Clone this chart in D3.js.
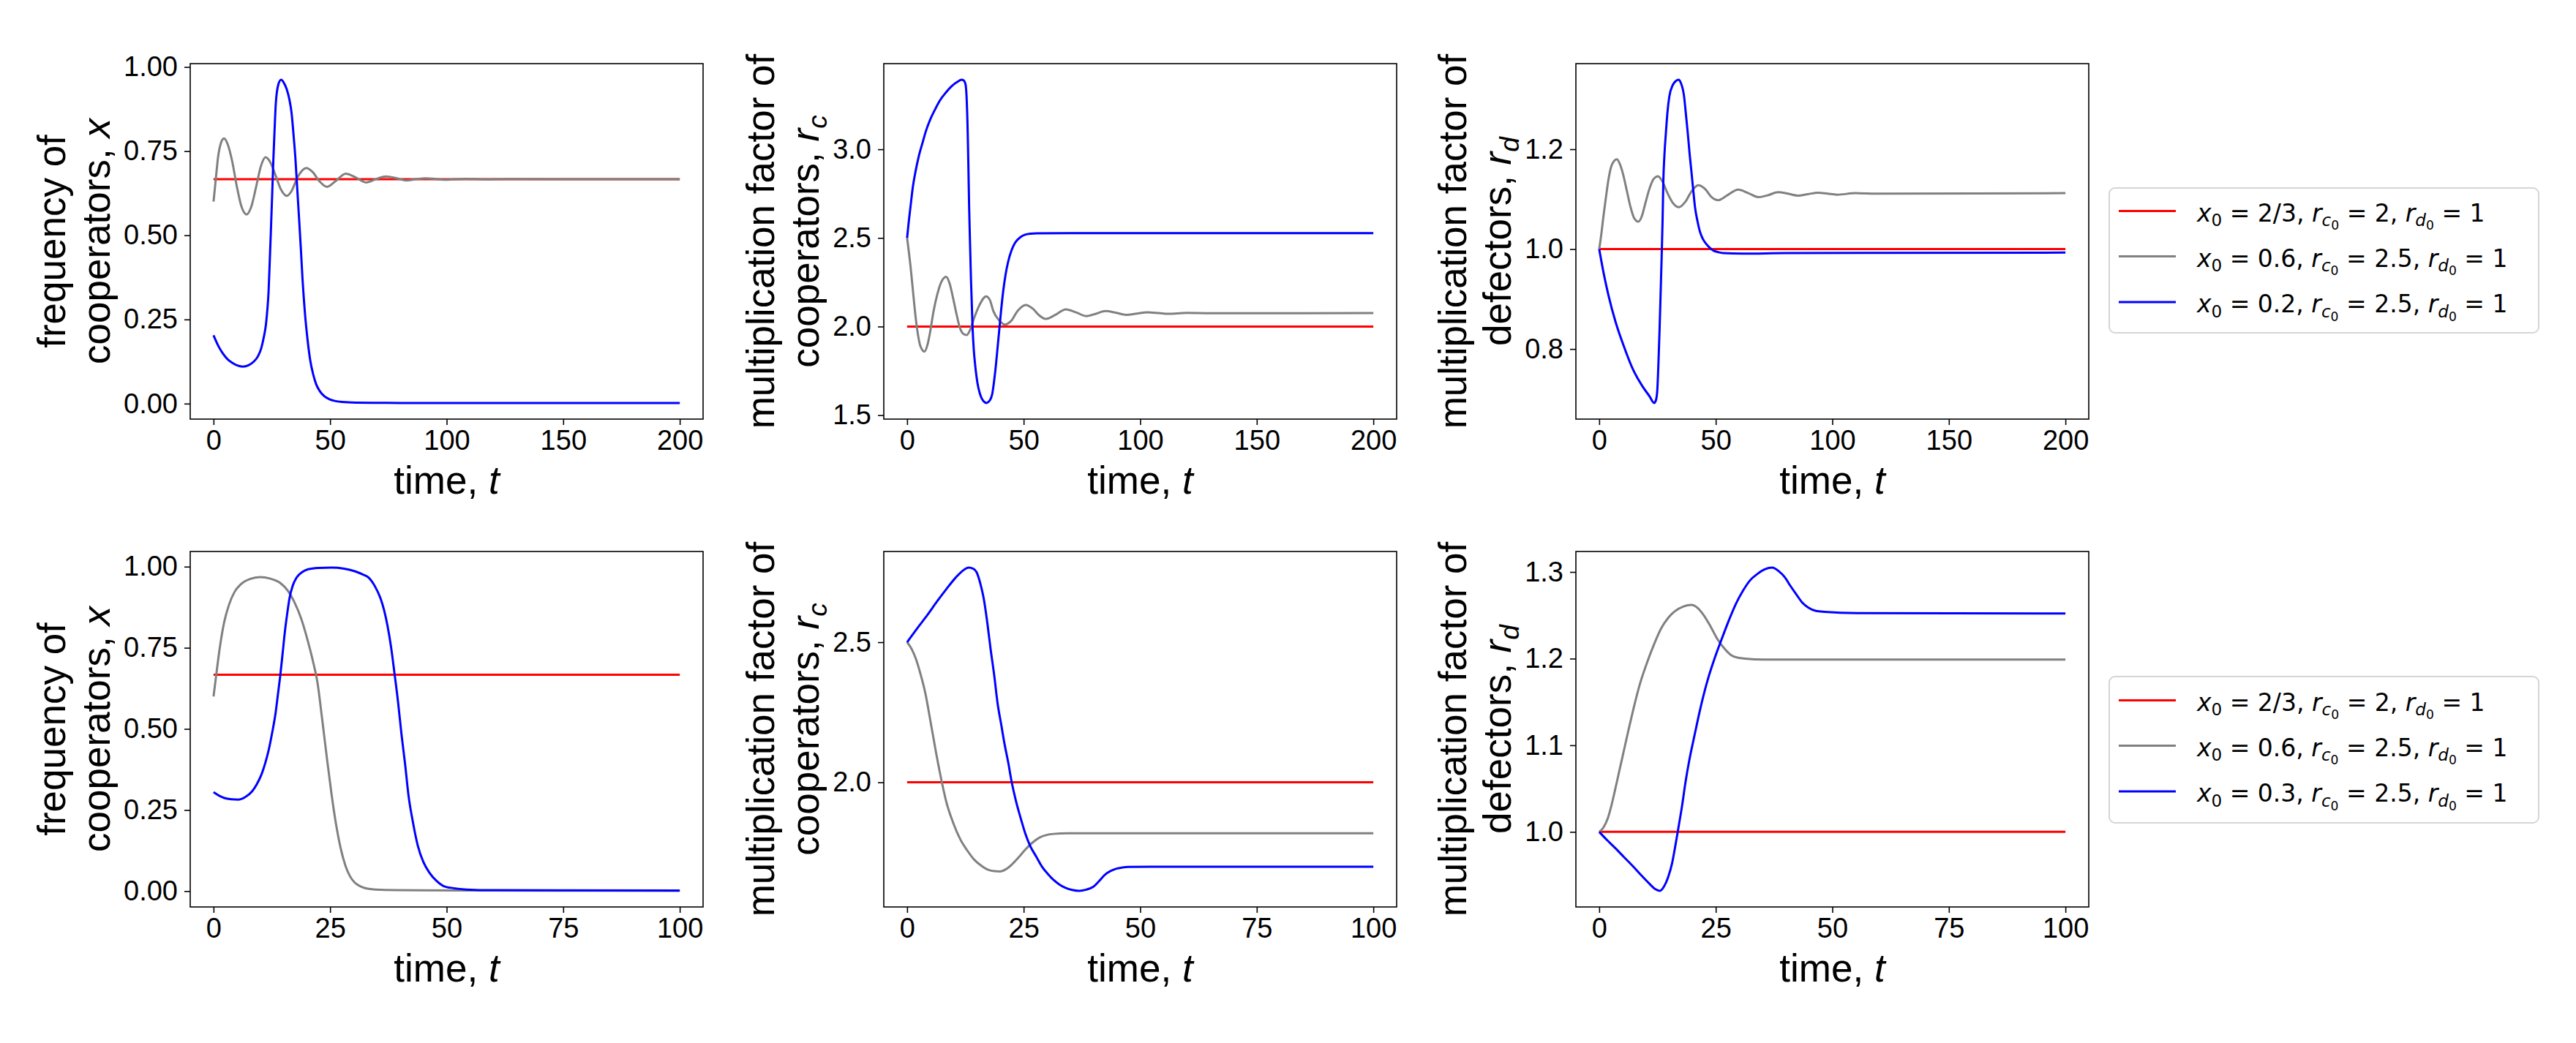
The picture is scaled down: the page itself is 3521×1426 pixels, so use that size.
<!DOCTYPE html>
<html>
<head>
<meta charset="utf-8">
<script src="https://cdn.jsdelivr.net/npm/d3@7"></script>
<style>
  body { margin: 0; background: #fff; }
  text { white-space: pre; }
</style>
</head>
<body>
<svg id="chart"></svg>
<script>
// ---- data: [t, value] pairs ----
const topFreqRed = [[0, 0.6667], [200, 0.6667]];
const topFreqGray = [[0,0.600],[0.8,0.655],[2,0.735],[3.2,0.775],[4.5,0.788],[6,0.772],[8,0.72],[10,0.645],[12,0.585],[14.2,0.562],[16.2,0.585],[18.3,0.645],[20.3,0.705],[22.3,0.732],[24.3,0.718],[26.5,0.68],[29,0.635],[31.4,0.617],[33.5,0.632],[36,0.672],[39.8,0.700],[42.5,0.688],[45.5,0.66],[48.7,0.644],[52.5,0.662],[56.7,0.683],[61,0.672],[65.4,0.657],[69.7,0.667],[74,0.675],[78.3,0.670],[82.7,0.663],[87,0.667],[91,0.6695],[95.5,0.667],[100,0.665],[108,0.668],[117,0.666],[126,0.667],[200,0.6667]];
const topFreqBlue = [[0,0.203],[2,0.172],[3.7,0.152],[6,0.132],[7.9,0.122],[10,0.114],[12.6,0.110],[15,0.114],[17.3,0.125],[19,0.14],[20.4,0.163],[21.5,0.195],[22.5,0.236],[23.1,0.28],[23.6,0.331],[24.1,0.42],[24.6,0.512],[25.2,0.63],[25.7,0.731],[26.2,0.815],[26.7,0.89],[27.8,0.948],[29,0.962],[30,0.955],[31.4,0.934],[32.5,0.905],[33.5,0.862],[34.3,0.80],[35.1,0.731],[35.9,0.64],[36.7,0.549],[37.5,0.455],[38.2,0.367],[39.2,0.27],[40.3,0.192],[41.5,0.128],[42.9,0.083],[44,0.058],[45.5,0.038],[47.5,0.022],[49.7,0.013],[52,0.008],[55,0.005],[61,0.003],[80,0.002],[200,0.002]];

const topRcRed = [[0, 2], [200, 2]];
const topRcGray = [[0,2.5],[1.5,2.336],[2.6,2.19],[3.6,2.059],[4.6,1.96],[5.6,1.894],[7.5,1.859],[8.8,1.90],[9.8,1.963],[11.4,2.09],[13,2.184],[15,2.26],[16.8,2.28],[18.3,2.24],[19.8,2.156],[21.2,2.07],[22.4,2.004],[24,1.96],[25.5,1.952],[27,1.98],[28.7,2.046],[31,2.12],[33.9,2.17],[35.5,2.15],[37,2.087],[39.5,2.035],[42,2.011],[44.5,2.03],[47.5,2.09],[50.9,2.122],[54,2.10],[56.5,2.065],[59.5,2.043],[63.5,2.065],[68.1,2.097],[72.5,2.08],[76.8,2.059],[81,2.072],[85.1,2.087],[89.5,2.078],[94,2.066],[98.5,2.073],[103,2.080],[108,2.076],[112,2.072],[120,2.077],[130,2.075],[200,2.076]];
const topRcBlue = [[0,2.5],[0.7,2.59],[1.5,2.681],[2.5,2.79],[3.6,2.874],[5,2.96],[6.7,3.040],[8,3.10],[9.8,3.164],[12,3.225],[14,3.274],[16.5,3.318],[19.2,3.357],[21.5,3.38],[23.4,3.392],[24.3,3.388],[25,3.37],[25.5,3.3],[26,3.095],[26.3,2.9],[26.6,2.681],[27,2.47],[27.4,2.267],[28.1,1.990],[28.6,1.87],[29.2,1.783],[30.2,1.68],[31.3,1.618],[32.7,1.58],[34.1,1.569],[35.3,1.58],[36.5,1.618],[37.3,1.69],[38.1,1.783],[38.8,1.88],[39.6,1.990],[40.4,2.1],[41.2,2.197],[42.2,2.29],[43.3,2.363],[44.8,2.43],[46.4,2.474],[48.5,2.503],[50.6,2.518],[53,2.524],[55.8,2.526],[70,2.527],[200,2.527]];

const topRdRed = [[0, 1], [200, 1]];
const topRdGray = [[0,1.0],[0.8,1.026],[1.8,1.065],[2.9,1.104],[4,1.14],[5,1.163],[6.3,1.176],[7.6,1.180],[8.9,1.17],[10.3,1.149],[11.8,1.118],[13.4,1.085],[15,1.062],[16.8,1.055],[18.3,1.066],[19.7,1.090],[21.5,1.12],[23.3,1.14],[25.2,1.146],[27.2,1.135],[29.1,1.114],[31.5,1.093],[34.3,1.084],[37,1.095],[39.5,1.115],[42.5,1.128],[45.5,1.12],[48,1.105],[51,1.098],[55,1.108],[59.6,1.119],[64,1.112],[68.3,1.104],[72.5,1.108],[76.7,1.114],[81,1.111],[85.3,1.107],[89.5,1.110],[93.9,1.113],[98,1.111],[102,1.109],[110,1.112],[120,1.111],[200,1.112]];
const topRdBlue = [[0,1.0],[1.9,0.952],[4,0.907],[7.1,0.853],[10.3,0.809],[14.4,0.760],[18.6,0.725],[21.5,0.706],[23.6,0.692],[24.3,0.697],[24.9,0.716],[25.4,0.77],[25.9,0.839],[26.4,0.92],[26.8,0.986],[27.2,1.06],[27.5,1.134],[28,1.19],[28.6,1.232],[29.3,1.275],[30.1,1.306],[31.5,1.328],[33,1.337],[34,1.339],[35,1.333],[36.4,1.306],[37.2,1.27],[38,1.232],[38.8,1.19],[39.5,1.158],[40.3,1.12],[41.1,1.084],[42.2,1.055],[43.2,1.035],[44.5,1.02],[45.8,1.011],[47.4,1.003],[49,0.997],[51,0.994],[53.1,0.992],[61.5,0.991],[80,0.992],[200,0.993]];

const botFreqRed = [[0, 0.6667], [100, 0.6667]];
const botFreqGray = [[0,0.600],[0.7,0.68],[1.3,0.746],[2.3,0.83],[3.3,0.882],[4.5,0.922],[5.8,0.945],[7.8,0.962],[10,0.968],[12.2,0.963],[14.3,0.950],[16,0.925],[17.3,0.892],[18.8,0.84],[20.3,0.767],[21.3,0.71],[22.3,0.642],[23.3,0.53],[24.3,0.412],[25.3,0.30],[26.3,0.204],[27.3,0.13],[28.3,0.078],[29.3,0.045],[30.3,0.026],[31.8,0.013],[33.3,0.007],[36,0.004],[39.3,0.003],[55,0.002],[100,0.001]];
const botFreqBlue = [[0,0.305],[1.2,0.294],[2.3,0.287],[3.8,0.283],[5.3,0.282],[6.8,0.290],[8.3,0.308],[9.3,0.33],[10.3,0.360],[11.1,0.395],[11.8,0.433],[12.6,0.49],[13.3,0.548],[13.8,0.605],[14.3,0.663],[14.8,0.73],[15.3,0.799],[15.8,0.855],[16.3,0.903],[17,0.942],[17.8,0.966],[19,0.983],[20.3,0.992],[22.5,0.996],[25.3,0.997],[28,0.994],[30.3,0.986],[32,0.976],[33.3,0.966],[34.6,0.94],[35.8,0.903],[36.6,0.865],[37.3,0.819],[38.1,0.75],[38.8,0.673],[39.6,0.58],[40.3,0.485],[41.1,0.39],[41.8,0.297],[42.8,0.21],[43.8,0.141],[45,0.09],[46.3,0.057],[47.8,0.032],[49.3,0.016],[51.5,0.009],[54.3,0.005],[60,0.003],[100,0.002]];

const botRcRed = [[0, 2], [100, 2]];
const botRcGray = [[0,2.5],[1,2.475],[1.9,2.44],[2.9,2.385],[3.9,2.319],[5.1,2.21],[6.4,2.089],[7.4,2.005],[8.4,1.931],[9.9,1.855],[11.4,1.797],[12.9,1.757],[14.4,1.724],[15.9,1.703],[17.4,1.688],[18.7,1.683],[19.9,1.682],[21.2,1.69],[22.4,1.706],[23.9,1.732],[25.4,1.761],[26.9,1.785],[28.4,1.803],[29.9,1.812],[31.4,1.816],[34.4,1.818],[37.4,1.818],[100,1.818]];
const botRcBlue = [[0,2.5],[2.2,2.55],[4.4,2.598],[6.4,2.645],[8.4,2.689],[10.4,2.73],[12,2.756],[13.2,2.766],[14.2,2.762],[14.9,2.75],[15.7,2.71],[16.4,2.659],[17.2,2.57],[17.9,2.477],[18.7,2.38],[19.4,2.283],[20.2,2.205],[20.9,2.137],[21.7,2.07],[22.4,2.004],[23.4,1.93],[24.4,1.870],[25.4,1.815],[26.4,1.773],[27.7,1.735],[28.9,1.700],[30.2,1.673],[31.4,1.652],[32.7,1.635],[33.9,1.624],[35.4,1.616],[36.9,1.613],[38.4,1.617],[39.9,1.627],[41.2,1.648],[42.4,1.670],[43.7,1.684],[44.9,1.692],[46.2,1.696],[47.4,1.698],[52.4,1.699],[100,1.699]];

const botRdRed = [[0, 1], [100, 1]];
const botRdGray = [[0,1.0],[0.9,1.005],[1.8,1.015],[2.6,1.03],[3.3,1.046],[4.3,1.07],[5.3,1.094],[6.3,1.118],[7.3,1.141],[8.8,1.172],[10.3,1.196],[11.8,1.217],[13.3,1.235],[14.8,1.247],[16.3,1.255],[18,1.260],[19.8,1.262],[21,1.259],[22.3,1.251],[23.8,1.238],[25.3,1.223],[26.8,1.212],[28.3,1.204],[29.8,1.201],[31.3,1.200],[35.3,1.199],[100,1.199]];
const botRdBlue = [[0,1.0],[1.6,0.991],[3.3,0.982],[5.3,0.971],[7.3,0.960],[9,0.95],[10.8,0.940],[12,0.934],[13,0.932],[13.9,0.937],[14.8,0.948],[15.6,0.963],[16.3,0.983],[17,1.005],[17.8,1.031],[18.5,1.057],[19.3,1.082],[20.3,1.108],[21.3,1.133],[22.3,1.156],[23.3,1.176],[24.8,1.201],[26.3,1.223],[27.8,1.244],[29.3,1.263],[30.8,1.278],[32.3,1.290],[34,1.298],[35.5,1.303],[37.1,1.305],[38.5,1.301],[39.8,1.294],[41,1.284],[42.3,1.274],[43.5,1.265],[44.8,1.259],[46.5,1.255],[48.3,1.254],[55.3,1.2525],[100,1.252]];

// ticks
const topXTicks = [0, 50, 100, 150, 200];
const botXTicks = [0, 25, 50, 75, 100];
const freqTicks = [0, 0.25, 0.5, 0.75, 1.0];
const topRcTicks = [1.5, 2.0, 2.5, 3.0];
const topRdTicks = [0.8, 1.0, 1.2];
const botRcTicks = [2.0, 2.5];
const botRdTicks = [1.0, 1.1, 1.2, 1.3];

// legend entries
const seriesColors = ["#ff0000", "#808080", "#0000ff"];
const topX0 = ["2/3", "0.6", "0.2"];
const botX0 = ["2/3", "0.6", "0.3"];
const rc0 = ["2", "2.5", "2.5"];
const rd0 = ["1", "1", "1"];

// ---- layout ----
const W = 3521, H = 1426;
const colLeft = [260, 1208, 2154];
const rowTop = [87, 754];
const pw = 701, ph = 486;
const tickFont = 38, labelFont = 53, legendFont = 33;
const sans = "'Liberation Sans', Arial, Helvetica, sans-serif";

const svg = d3.select("#chart").attr("width", W).attr("height", H)
  .style("font-family", sans);

const panels = [
  { row: 0, col: 0, series: [topFreqRed, topFreqGray, topFreqBlue], xTicks: topXTicks, yTicks: freqTicks, fmt: ".2f",
    ylab: [[["frequency of", 0, 0]], [["cooperators, ", 0, 0], ["x", 1, 0]]] },
  { row: 0, col: 1, series: [topRcRed, topRcGray, topRcBlue], xTicks: topXTicks, yTicks: topRcTicks, fmt: ".1f",
    ylab: [[["multiplication factor of", 0, 0]], [["cooperators, ", 0, 0], ["r", 1, 0], ["c", 1, 1]]] },
  { row: 0, col: 2, series: [topRdRed, topRdGray, topRdBlue], xTicks: topXTicks, yTicks: topRdTicks, fmt: ".1f",
    ylab: [[["multiplication factor of", 0, 0]], [["defectors, ", 0, 0], ["r", 1, 0], ["d", 1, 1]]] },
  { row: 1, col: 0, series: [botFreqRed, botFreqGray, botFreqBlue], xTicks: botXTicks, yTicks: freqTicks, fmt: ".2f",
    ylab: [[["frequency of", 0, 0]], [["cooperators, ", 0, 0], ["x", 1, 0]]] },
  { row: 1, col: 1, series: [botRcRed, botRcGray, botRcBlue], xTicks: botXTicks, yTicks: botRcTicks, fmt: ".1f",
    ylab: [[["multiplication factor of", 0, 0]], [["cooperators, ", 0, 0], ["r", 1, 0], ["c", 1, 1]]] },
  { row: 1, col: 2, series: [botRdRed, botRdGray, botRdBlue], xTicks: botXTicks, yTicks: botRdTicks, fmt: ".1f",
    ylab: [[["multiplication factor of", 0, 0]], [["defectors, ", 0, 0], ["r", 1, 0], ["d", 1, 1]]] }
];

// text with italic parts and sub / sub-sub scripts
function richText(sel, segs, size) {
  const shift = [0, 0.2, 0.36];
  const scale = [1, 0.7, 0.52];
  let cur = 0;
  segs.forEach(([txt, it, lv]) => {
    sel.append("tspan")
      .attr("dy", (shift[lv] - shift[cur]) * size)
      .attr("font-size", size * scale[lv])
      .attr("font-style", it ? "italic" : "normal")
      .text(txt);
    cur = lv;
  });
}

// matplotlib style 5% margins
function padded(ext) {
  const m = (ext[1] - ext[0]) * 0.05;
  return [ext[0] - m, ext[1] + m];
}

panels.forEach(p => {
  const left = colLeft[p.col], top = rowTop[p.row];
  const g = svg.append("g").attr("transform", `translate(${left}, ${top})`);

  const allPts = p.series.flat();
  const x = d3.scaleLinear()
    .domain(padded(d3.extent(allPts, d => d[0])))
    .range([0, pw]);
  const y = d3.scaleLinear()
    .domain(padded(d3.extent(allPts, d => d[1])))
    .range([ph, 0]);

  const line = d3.line()
    .x(d => x(d[0]))
    .y(d => y(d[1]))
    .curve(d3.curveMonotoneX);

  // curves
  p.series.forEach((s, i) => {
    g.append("path")
      .datum(s)
      .attr("d", line)
      .attr("fill", "none")
      .attr("stroke", seriesColors[i])
      .attr("stroke-width", 3)
      .attr("stroke-linejoin", "round");
  });

  // spines
  g.append("rect")
    .attr("width", pw).attr("height", ph)
    .attr("fill", "none").attr("stroke", "#000").attr("stroke-width", 1.6);

  // axes
  const xa = g.append("g")
    .attr("transform", `translate(0, ${ph})`)
    .call(d3.axisBottom(x).tickValues(p.xTicks).tickFormat(d3.format("d"))
      .tickSizeInner(8).tickSizeOuter(0).tickPadding(7));
  const ya = g.append("g")
    .call(d3.axisLeft(y).tickValues(p.yTicks).tickFormat(d3.format(p.fmt))
      .tickSizeInner(8).tickSizeOuter(0).tickPadding(9));

  [xa, ya].forEach(a => {
    a.select(".domain").remove();
    a.selectAll("line").attr("stroke", "#000").attr("stroke-width", 1.6);
    a.selectAll("text").attr("font-family", sans).attr("font-size", tickFont).attr("fill", "#000");
  });

  // x label
  const xl = g.append("text")
    .attr("x", pw / 2).attr("y", ph + 102)
    .attr("text-anchor", "middle").attr("font-size", labelFont).attr("fill", "#000");
  richText(xl, [["time, ", 0, 0], ["t", 1, 0]], labelFont);

  // y label (two lines, rotated)
  const bb = ya.node().getBBox();
  const line2X = bb.x - 38;
  const lineXs = [line2X - 61, line2X];
  p.ylab.forEach((segs, i) => {
    const t = g.append("text")
      .attr("transform", `translate(${lineXs[i]}, ${ph / 2}) rotate(-90)`)
      .attr("text-anchor", "middle")
      .attr("y", labelFont * 0.36)
      .attr("font-size", labelFont).attr("fill", "#000");
    richText(t, segs, labelFont);
  });
});

// legends
const legends = [
  { x: 2883, y: 257, h: 198, x0: topX0 },
  { x: 2883, y: 925, h: 200, x0: botX0 }
];
legends.forEach(L => {
  const g = svg.append("g").attr("transform", `translate(${L.x}, ${L.y})`)
    .style("font-family", "'DejaVu Sans', sans-serif");
  g.append("rect")
    .attr("width", 587).attr("height", L.h).attr("rx", 8)
    .attr("fill", "#fff").attr("stroke", "#d5d5d5").attr("stroke-width", 2);
  const rowsY = [31.5, 93.5, 156];
  L.x0.forEach((v, i) => {
    const ly = rowsY[i] + (L.h - 198) / 2;
    g.append("line")
      .attr("x1", 13).attr("x2", 91).attr("y1", ly).attr("y2", ly)
      .attr("stroke", seriesColors[i]).attr("stroke-width", 3);
    const t = g.append("text")
      .attr("x", 120).attr("y", ly + 14)
      .attr("font-size", legendFont).attr("fill", "#000");
    richText(t, [
      ["x", 1, 0], ["0", 0, 1], [` = ${v}, `, 0, 0],
      ["r", 1, 0], ["c", 1, 1], ["0", 0, 2], [` = ${rc0[i]}, `, 0, 0],
      ["r", 1, 0], ["d", 1, 1], ["0", 0, 2], [` = ${rd0[i]}`, 0, 0]
    ], legendFont);
  });
});
</script>
</body>
</html>
